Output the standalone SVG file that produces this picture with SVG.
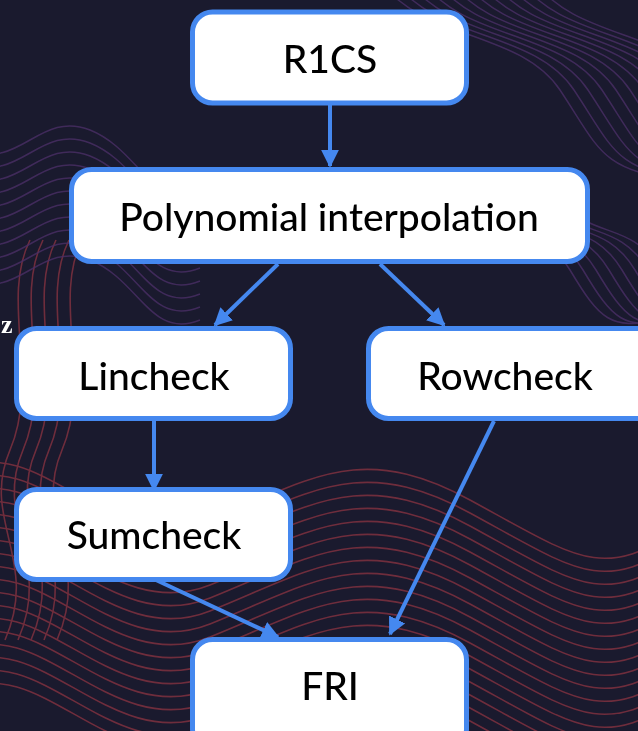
<svg xmlns="http://www.w3.org/2000/svg" xmlns:xlink="http://www.w3.org/1999/xlink" width="638" height="731" viewBox="0 0 638 731">
<defs>
<style>
.node rect{fill:#ffffff;stroke:#4588ef;stroke-width:5}
.node text{font-family:Lato,"Noto Sans",sans-serif;font-size:39px;font-weight:500;fill:#000;text-anchor:middle;dominant-baseline:central}
.conn line{stroke:#4588ef;stroke-width:4;marker-end:url(#ah)}
.wr{fill:none;stroke:#8c3442;stroke-width:1.6;opacity:0.75}
.wp{fill:none;stroke:#4a2f66;stroke-width:1.5;opacity:0.8}
</style>
<marker id="ah" viewBox="0 0 10 10" refX="9" refY="5" markerWidth="4.5" markerHeight="4.5" orient="auto" markerUnits="strokeWidth">
<path d="M0,0 L10,5 L0,10 z" fill="#4588ef"/>
</marker>
<path id="w1" d="M-40 470 C 40 430, 110 560, 210 520 S 360 440, 470 500 S 600 580, 680 530"/>
<path id="w2" d="M380 -20 C 420 40, 520 30, 560 90 S 600 170, 680 180"/>
<path id="w3" d="M30 240 C 0 300, 40 380, 10 450 S 40 560, 5 640"/>
<path id="w4" d="M-30 150 C 20 170, 40 110, 90 130 S 150 210, 200 190"/>
<path id="w5" d="M470 200 C 500 240, 540 220, 570 270 S 610 330, 660 320"/>
</defs>
<rect width="638" height="731" fill="#1a1a2e"/>
<g id="bg">
<g class="wr">
<use xlink:href="#w1" y="0"/><use xlink:href="#w1" y="13"/><use xlink:href="#w1" y="26"/><use xlink:href="#w1" y="39"/><use xlink:href="#w1" y="52"/><use xlink:href="#w1" y="65"/><use xlink:href="#w1" y="78"/><use xlink:href="#w1" y="91"/><use xlink:href="#w1" y="104"/><use xlink:href="#w1" y="117"/><use xlink:href="#w1" y="130"/><use xlink:href="#w1" y="143"/><use xlink:href="#w1" y="156"/><use xlink:href="#w1" y="169"/><use xlink:href="#w1" y="182"/><use xlink:href="#w1" y="195"/><use xlink:href="#w1" y="208"/><use xlink:href="#w1" y="221"/>
<use xlink:href="#w3" x="0"/><use xlink:href="#w3" x="13"/><use xlink:href="#w3" x="26"/><use xlink:href="#w3" x="39"/><use xlink:href="#w3" x="52"/>
</g>
<g class="wp">
<use xlink:href="#w2" x="0"/><use xlink:href="#w2" x="14"/><use xlink:href="#w2" x="28"/><use xlink:href="#w2" x="42"/><use xlink:href="#w2" x="56"/><use xlink:href="#w2" x="70"/><use xlink:href="#w2" x="84"/><use xlink:href="#w2" x="98"/><use xlink:href="#w2" x="112"/><use xlink:href="#w2" x="126"/><use xlink:href="#w2" x="140"/><use xlink:href="#w2" x="154"/>
<use xlink:href="#w4" y="0"/><use xlink:href="#w4" y="13"/><use xlink:href="#w4" y="26"/><use xlink:href="#w4" y="39"/><use xlink:href="#w4" y="52"/><use xlink:href="#w4" y="65"/><use xlink:href="#w4" y="78"/><use xlink:href="#w4" y="91"/><use xlink:href="#w4" y="104"/><use xlink:href="#w4" y="117"/><use xlink:href="#w4" y="130"/>
<use xlink:href="#w5" x="0"/><use xlink:href="#w5" x="13"/><use xlink:href="#w5" x="26"/><use xlink:href="#w5" x="39"/><use xlink:href="#w5" x="52"/><use xlink:href="#w5" x="65"/><use xlink:href="#w5" x="78"/><use xlink:href="#w5" x="91"/>
</g>
</g>
<text x="1" y="333" font-family="Liberation Serif, serif" font-size="26" font-weight="bold" fill="#ffffff">z</text>
<g id="connectors" class="conn">
<line x1="330" y1="105" x2="330" y2="166"/>
<line x1="278" y1="264" x2="215" y2="325"/>
<line x1="380" y1="264" x2="444" y2="325"/>
<line x1="154" y1="421" x2="154" y2="490"/>
<line x1="156" y1="580" x2="278" y2="637"/>
<line x1="494" y1="421" x2="390" y2="634"/>
</g>
<g id="n-r1cs" class="node"><rect x="192.5" y="12" width="274" height="91" rx="20"/><text x="330" y="58">R1CS</text></g>
<g id="n-poly" class="node"><rect x="71.5" y="169.5" width="516" height="92" rx="20"/><text x="329" y="216">Polynomial interpolation</text></g>
<g id="n-lincheck" class="node"><rect x="16.5" y="328.5" width="274" height="90" rx="20"/><text x="154" y="375">Lincheck</text></g>
<g id="n-rowcheck" class="node"><rect x="368.5" y="328.5" width="290" height="90" rx="20"/><text x="505" y="375">Rowcheck</text></g>
<g id="n-sumcheck" class="node"><rect x="16.5" y="489.5" width="274" height="90" rx="20"/><text x="154" y="534">Sumcheck</text></g>
<g id="n-fri" class="node"><rect x="192.5" y="639.5" width="274" height="110" rx="20"/><text x="330" y="685">FRI</text></g>
</svg>
